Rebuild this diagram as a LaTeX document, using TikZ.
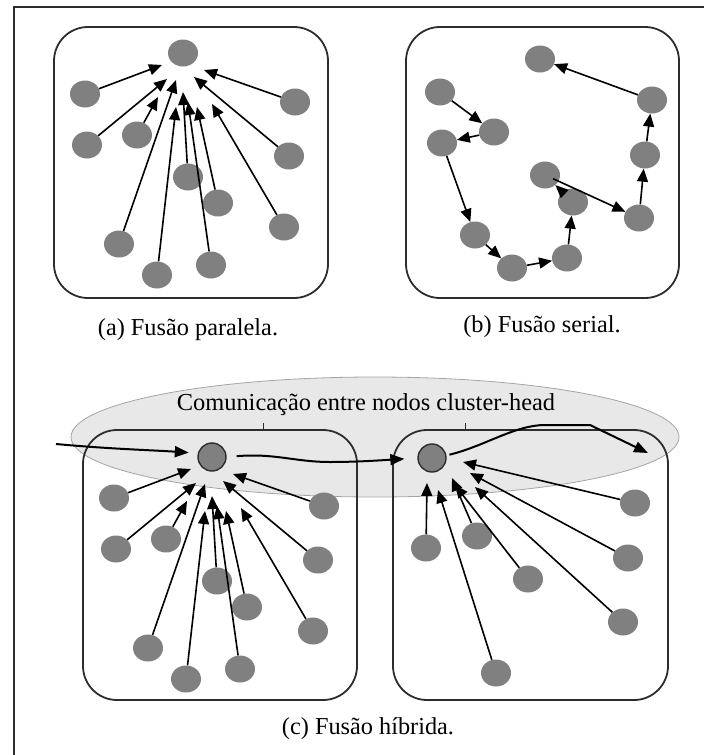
\documentclass[tikz,border=0pt]{standalone}
\usepackage{fontspec}
\setmainfont{Liberation Serif}
\usetikzlibrary{arrows.meta,shapes.geometric}

\definecolor{sensorgray}{RGB}{128,128,128}
\definecolor{framegray}{RGB}{45,45,45}
\definecolor{zonefill}{RGB}{232,232,232}
\definecolor{zoneline}{RGB}{165,165,165}

\tikzset{
  sensor/.style={ellipse, fill=sensorgray, minimum width=30pt, minimum height=27pt, inner sep=0pt},
  chead/.style={circle, fill=sensorgray, draw=framegray, line width=1.4pt, minimum size=28pt, inner sep=0pt},
  arr/.style={-{Triangle[length=13pt,width=11pt]}, line width=1.6pt, black},
  link/.style={-{Triangle[length=14pt,width=11pt]}, line width=2pt, black},
  panel/.style={draw=framegray, line width=1.8pt, rounded corners=34pt},
  caption/.style={font=\fontsize{24.3}{28}\selectfont, inner sep=0pt},
}

% Star of sensors around a sink placed at the scope origin; #1 prefixes the node names
\newcommand{\fanout}[1]{%
  \foreach \nm/\nx/\ny in {l1/-98/41, l2/-96/92, l3/-46/82, bl/-64/191, bm/-26/222,
      mone/5/124, br/28/212, mtwo/35/150, rthree/101/174, rtwo/106/103, rone/112/49}{%
    \node[sensor] (#1\nm) at (\nx,\ny) {};
  }
  \foreach \nm/\tx/\ty in {l1/-21/12, l2/-16/26, l3/-25/44, bl/-7/27, bm/-7/54,
      mone/0/39, br/5/49, mtwo/14/54, rthree/29/51, rtwo/11/24, rone/21/17}{%
    \coordinate (#1\nm t) at (\tx,\ty);
    \draw[arr] (#1\nm) -- (#1\nm t);
  }%
}

\begin{document}
\begin{tikzpicture}[x=1pt,y=-1pt]
\useasboundingbox (0,0) rectangle (704,755);

% outer frame
\draw[framegray, line width=1.4pt] (14,755) -- (14,7) -- (704,7);

% ---------- (a) parallel fusion ----------
\draw[panel] (54,27) rectangle (328,298);
\node[sensor] (pa) at (183,53) {};
\begin{scope}[shift={(183,53)}]
  \fanout{pa}
\end{scope}
\node[caption] (capa) at (188,330) {(a) Fusão paralela.};

% ---------- (b) serial fusion ----------
\draw[panel] (406,27) rectangle (679,298);
\foreach \nm/\nx/\ny in {s1/440/92, s2/494/132, s3/442/143, s4/475/235, s5/512/268,
    s6/567/258, s7/573/202, s8/545/175, s9/639/218, s10/645/155, s11/652/100, s12/540/59}{%
  \node[sensor] (\nm) at (\nx,\ny) {};
}
\draw[arr] (s1) -- (s2);
\draw[arr] (s2) -- (s3);
\draw[arr] (s3) -- (s4);
\draw[arr] (s4) -- (s5);
\draw[arr] (s5) -- (s6);
\draw[arr] (s6) -- (s7);
\draw[arr, shorten <=-6pt] (s7) -- (s8);
\draw[arr, shorten <=-6pt] (s8) -- (s9);
\draw[arr] (s9) -- (s10);
\draw[arr] (s10) -- (s11);
\draw[arr] (s11) -- (s12);
\node[caption] (capb) at (542,327) {(b) Fusão serial.};

% ---------- (c) hybrid fusion ----------
\node[ellipse, fill=zonefill, draw=zoneline, line width=0.8pt,
      minimum width=608pt, minimum height=120pt, inner sep=0pt] (zone) at (375,437) {};
\node[font=\fontsize{24.4}{28}\selectfont, inner sep=0pt] (zonetext) at (366,405)
  {Comunicação entre nodos cluster-head};
\draw[framegray, line width=1pt] (263,423) -- (263,430);
\draw[framegray, line width=1pt] (465,423) -- (465,430);

\draw[panel] (83,430) rectangle (357,700);
\draw[panel] (393,430) rectangle (668,700);

% left cluster
\node[chead] (ch1) at (212,457) {};
\begin{scope}[shift={(212,457)}]
  \fanout{cl}
\end{scope}

% right cluster
\node[chead] (ch2) at (432,458) {};
\foreach \nm/\nx/\ny/\tx/\ty in {ra/426/548/427/483, rg/496/673/438/490, rb/477/536/452/478,
    rc/528/579/455/485, rd/635/503/463/462, re/628/558/470/473, rf/623/622/475/487}{%
  \node[sensor] (\nm) at (\nx,\ny) {};
  \coordinate (\nm t) at (\tx,\ty);
}
\foreach \nm in {ra,rg,rb,rc,rd,re,rf}{%
  \draw[arr] (\nm) -- (\nm t);
}

% links between cluster heads
\coordinate (inlet) at (56,444);
\coordinate (outlet) at (648,453);
\draw[link, shorten >=9pt] (inlet) .. controls (110,449) and (150,450) .. (ch1.165);
\draw[link, shorten <=10pt, shorten >=13pt] (ch1.east) .. controls (275,453) and (295,462) .. (330,462)
  .. controls (360,462) and (385,460) .. (ch2.west);
\draw[link, shorten <=3pt] (ch2.10) .. controls (485,446) and (515,425) .. (545,425)
  -- (590,425) -- (outlet);

\node[caption] (capc) at (368,729) {(c) Fusão híbrida.};
\end{tikzpicture}
\end{document}
